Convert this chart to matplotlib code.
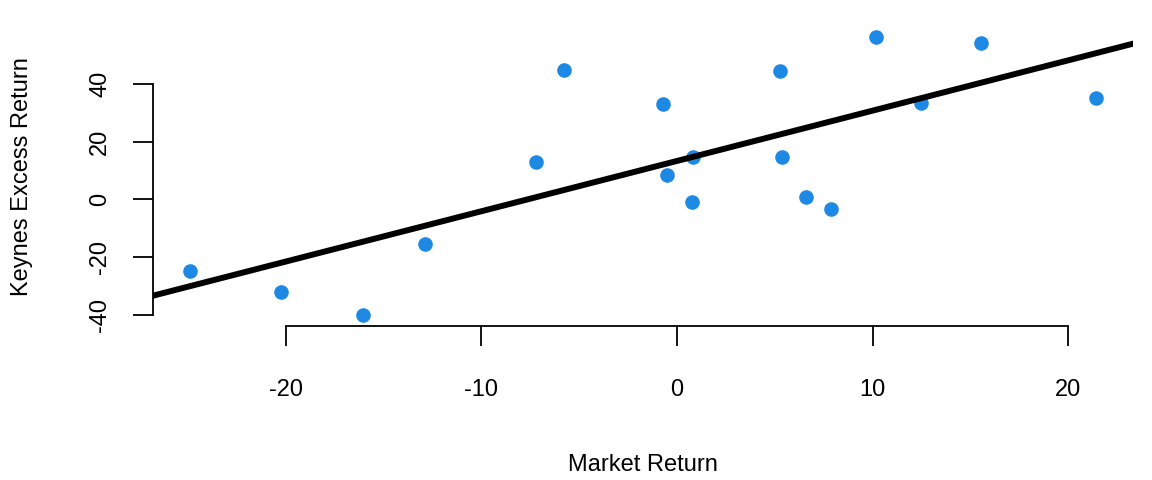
import matplotlib
matplotlib.use("Agg")
import matplotlib.pyplot as plt
import numpy as np

# market return vs Keynes excess return
market = [-24.92, -20.23, -16.04, -12.87, -7.19, -5.76, -0.70, -0.50, 0.80,
          0.78, 5.28, 5.38, 6.60, 7.89, 10.19, 12.49, 15.56, 21.44]
keynes = [-24.7, -32.0, -40.0, -15.4, 13.0, 44.8, 33.1, 8.6, 14.8,
          -0.8, 44.5, 14.7, 0.8, -3.3, 56.3, 33.4, 54.2, 35.2]
xticks = [-20, -10, 0, 10, 20]
yticks = [-40, -20, 0, 20, 40]

plt.rcParams['font.family'] = ['Liberation Sans', 'DejaVu Sans']
plt.rcParams['font.size'] = 17
plt.rcParams['axes.unicode_minus'] = False

fig = plt.figure(figsize=(11.52, 4.8), dpi=100)
ax = fig.add_axes([0.1331, 0.3206, 0.8502, 0.6257])

ax.plot(market, keynes, 'o', color='#1E88E5', markersize=10.5, markeredgewidth=0)
ax.margins(0.04)

# least squares line, drawn across the whole plot region
slope, intercept = np.polyfit(market, keynes, 1)
ax.axline((0, intercept), slope=slope, color='black', linewidth=4.3)

for side in ['top', 'right']:
    ax.spines[side].set_visible(False)
ax.spines['left'].set_bounds(-40, 40)
ax.spines['bottom'].set_bounds(-20, 20)
for side in ['left', 'bottom']:
    ax.spines[side].set_linewidth(1.3)

ax.set_xticks(xticks)
ax.set_yticks(yticks)
ax.tick_params(direction='out', length=14.4, width=1.3)
ax.tick_params(axis='x', pad=24)
ax.tick_params(axis='y', pad=16, labelrotation=90)
for lab in ax.get_yticklabels():
    lab.set_va('center')

fig.text(642.5 / 1152, 1 - 465 / 480, 'Market Return', ha='center', va='center')
fig.text(22 / 1152, 1 - 177 / 480, 'Keynes Excess Return', ha='center', va='center',
         rotation=90)

fig.savefig('out.png', dpi=100)
